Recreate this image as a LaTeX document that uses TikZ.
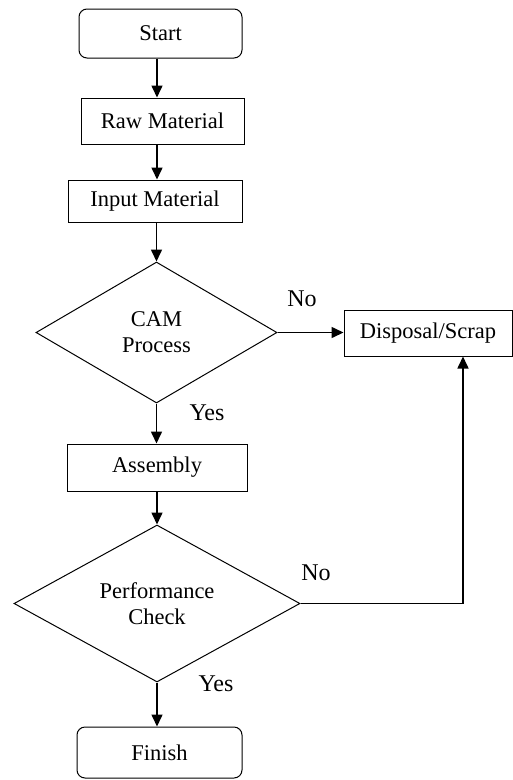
\documentclass[tikz,border=0pt]{standalone}
\usepackage{fontspec}
\setmainfont{Liberation Serif}
\usetikzlibrary{shapes.geometric,arrows.meta}
\begin{document}
\begin{tikzpicture}[x=1pt,y=-1pt,
  txt/.style={font=\fontsize{22.5}{26}\selectfont, align=center, inner sep=0pt},
  boxnode/.style={txt, draw, line width=1pt, anchor=center},
  termnode/.style={boxnode, rounded corners=8pt},
  decnode/.style={txt, draw, line width=1pt, diamond, anchor=center},
  lbl/.style={font=\fontsize{24}{28}\selectfont, inner sep=0pt, anchor=center},
  flow/.style={line width=1.6pt, -{Triangle[length=12pt,width=11pt]}}]
\useasboundingbox (0,0) rectangle (513,780);
\node[termnode, minimum width=163pt, minimum height=49pt] (start) at (160.5,33.5) {Start};
\node[boxnode, minimum width=163pt, minimum height=46pt] (raw) at (162.5,121) {Raw Material};
\node[boxnode, minimum width=174pt, minimum height=42pt] (input) at (155,201) {Input Material};
\node[decnode, minimum width=241pt, minimum height=141pt] (cam) at (156.5,332.5) {CAM\\Process};
\node[boxnode, minimum width=168pt, minimum height=46pt] (disp) at (428,333) {Disposal/Scrap};
\node[boxnode, minimum width=180pt, minimum height=47pt] (asm) at (157,467.5) {Assembly};
\node[decnode, minimum width=286pt, minimum height=151pt] (perf) at (157,603.5) {Performance\\Check};
\node[termnode, minimum width=165pt, minimum height=51pt] (fin) at (159.5,752.5) {Finish};
\node[lbl] (no1) at (302,299) {No};
\node[lbl] (yes1) at (207,413) {Yes};
\node[lbl] (no2) at (316,573) {No};
\node[lbl] (yes2) at (216,684) {Yes};
\draw[flow] (start.south -| 157,0) -- (raw.north -| 157,0);
\draw[flow] (raw.south -| 157,0) -- (input.north -| 157,0);
\draw[flow] (input.south -| cam.north) -- (cam.north);
\draw[flow] (cam.east) -- (disp.west |- cam.east);
\draw[flow] (cam.south) -- (asm.north -| cam.south);
\draw[flow] (asm.south -| perf.north) -- (perf.north);
\draw[flow] (perf.east) -- (463,603.5) coordinate (k) -- (k |- disp.south);
\draw[flow] (perf.south) -- (fin.north -| perf.south);
\end{tikzpicture}
\end{document}
